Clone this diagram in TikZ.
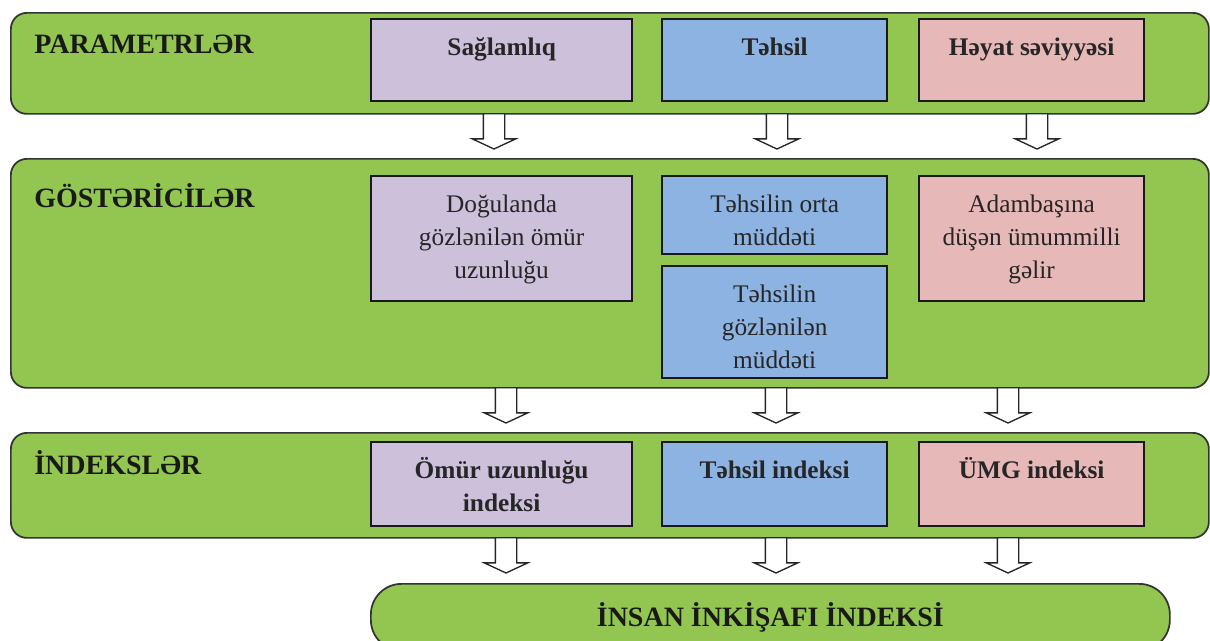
\documentclass[tikz,border=0pt]{standalone}
\usepackage{fontspec}
\setmainfont{Liberation Serif}
\usetikzlibrary{shapes.arrows}

\definecolor{bandgreen}{RGB}{146,198,80}
\definecolor{boxpurple}{RGB}{204,192,218}
\definecolor{boxblue}{RGB}{141,179,226}
\definecolor{boxpink}{RGB}{230,184,183}
\definecolor{inkgray}{RGB}{38,38,38}

\tikzset{
  band/.style={draw=black!80, line width=1.3pt, fill=bandgreen, rounded corners=12pt, anchor=north west, inner sep=0pt},
  box/.style={draw=black!90, line width=1.7pt, anchor=north west, inner sep=0pt},
  boxtext/.style={anchor=north, inner xsep=0pt, inner ysep=10.5pt, align=center, text=inkgray, font=\fontsize{19}{24.75}\selectfont},
  boxhead/.style={boxtext, font=\fontsize{19}{24.75}\selectfont\bfseries},
  rowlabel/.style={anchor=base west, inner sep=0pt, text=black!90, font=\fontsize{21}{25}\selectfont\bfseries},
  downarr/.style={single arrow, shape border rotate=270, draw=black!85, fill=white, line width=1pt, inner sep=7.5pt, minimum height=26.5pt, single arrow head extend=8.25pt, single arrow tip angle=130, anchor=tail}
}

\begin{document}
\begin{tikzpicture}[x=0.75pt,y=0.75pt,yscale=-1,xscale=1]
	\clip (0,0) rectangle (1210,640);

	%Shape: Bands
	\node [band, minimum width=898.5pt, minimum height=75.75pt] (par) at (10,12) {};
	\node [band, minimum width=898.5pt, minimum height=171.75pt] (gos) at (10,158) {};
	\node [band, minimum width=898.5pt, minimum height=78.75pt] (ind) at (10,432) {};
	\node [band, rounded corners=23pt, minimum width=599.25pt, minimum height=50pt, text=black!90, font=\fontsize{21}{25}\selectfont\bfseries] (iii) at (370,583) {İNSAN İNKİŞAFI İNDEKSİ};

	% Text Node
	\node [rowlabel] (parl) at (34,53) {PARAMETRLƏR};
	% Text Node
	\node [rowlabel] (gosl) at (34,207) {GÖSTƏRİCİLƏR};
	% Text Node
	\node [rowlabel] (indl) at (34,474) {İNDEKSLƏR};

	%Shape: Rectangle - parametrlər
	\node [box, fill=boxpurple, minimum width=195.75pt, minimum height=61.5pt] (sag) at (370,18) {};
	\node [box, fill=boxblue, minimum width=168.75pt, minimum height=61.5pt] (teh) at (661,18) {};
	\node [box, fill=boxpink, minimum width=168.75pt, minimum height=61.5pt] (hey) at (918,18) {};
	\node [boxhead] (sagt) at (sag.north) {\strut Sağlamlıq};
	\node [boxhead] (teht) at (teh.north) {\strut Təhsil};
	\node [boxhead] (heyt) at (hey.north) {\strut Həyat səviyyəsi};

	%Shape: Rectangle - göstəricilər
	\node [box, fill=boxpurple, minimum width=195.75pt, minimum height=93.75pt] (dog) at (370,175) {};
	\node [box, fill=boxblue, minimum width=168.75pt, minimum height=58.5pt] (ort) at (661,175) {};
	\node [box, fill=boxblue, minimum width=168.75pt, minimum height=84pt] (goz) at (661,265) {};
	\node [box, fill=boxpink, minimum width=168.75pt, minimum height=93.75pt] (ada) at (918,175) {};
	\node [boxtext] (dogt) at (dog.north) {\strut Doğulanda\\gözlənilən ömür\\uzunluğu};
	\node [boxtext] (ortt) at (ort.north) {\strut Təhsilin orta\\müddəti};
	\node [boxtext] (gozt) at (goz.north) {\strut Təhsilin\\gözlənilən\\müddəti};
	\node [boxtext] (adat) at (ada.north) {\strut Adambaşına\\düşən ümummilli\\gəlir};

	%Shape: Rectangle - indekslər
	\node [box, fill=boxpurple, minimum width=195.75pt, minimum height=63pt] (omi) at (370,441) {};
	\node [box, fill=boxblue, minimum width=168.75pt, minimum height=63pt] (tei) at (661,441) {};
	\node [box, fill=boxpink, minimum width=168.75pt, minimum height=63pt] (umg) at (918,441) {};
	\node [boxhead] (omit) at (omi.north) {\strut Ömür uzunluğu\\indeksi};
	\node [boxhead] (teit) at (tei.north) {\strut Təhsil indeksi};
	\node [boxhead] (umgt) at (umg.north) {\strut ÜMG indeksi};

	%Shape: Arrows
	\node [downarr] (a11) at (494,113) {};
	\node [downarr] (a12) at (777,113) {};
	\node [downarr] (a13) at (1037,113) {};
	\node [downarr] (a21) at (506,387) {};
	\node [downarr] (a22) at (776,387) {};
	\node [downarr] (a23) at (1008,387) {};
	\node [downarr] (a31) at (506,537) {};
	\node [downarr] (a32) at (776,537) {};
	\node [downarr] (a33) at (1008,537) {};

\end{tikzpicture}
\end{document}
